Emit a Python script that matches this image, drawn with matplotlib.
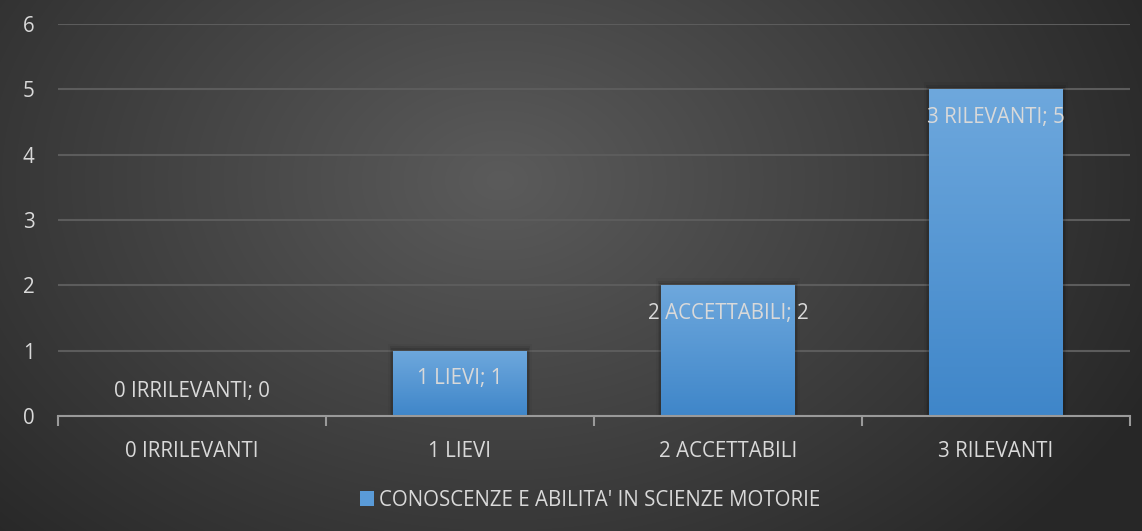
import numpy as np
import matplotlib
matplotlib.use("Agg")
import matplotlib.pyplot as plt
from matplotlib.colors import LinearSegmentedColormap
from matplotlib.patches import Patch

categories = ["0 IRRILEVANTI", "1 LIEVI", "2 ACCETTABILI", "3 RILEVANTI"]
values = [0, 1, 2, 5]
series_name = "CONOSCENZE E ABILITA' IN SCIENZE MOTORIE"
yticks = [0, 1, 2, 3, 4, 5, 6]

plt.rcParams['font.family'] = ['Open Sans', 'DejaVu Sans']
txt = '#d9d9d9'
fs = 14.8

W, H = 1142, 531
fig = plt.figure(figsize=(W / 100, H / 100), dpi=100)

# radial background
bg = fig.add_axes([0, 0, 1, 1], zorder=-10)
yy, xx = np.mgrid[0:H, 0:W]
cx, cy = 500, 180
r = np.sqrt(((xx - cx) / 720) ** 2 + ((yy - cy) / 520) ** 2)
r = np.clip(r, 0, 1)
c0 = np.array([0x5b, 0x5b, 0x5b]) / 255
c1 = np.array([0x27, 0x27, 0x27]) / 255
img = c0[None, None, :] * (1 - r[..., None]) + c1[None, None, :] * r[..., None]
bg.imshow(img, extent=[0, 1, 0, 1], aspect='auto', origin='upper')
bg.axis('off')

ax = fig.add_axes([58 / W, 1 - 416 / H, (1130 - 58) / W, (416 - 24) / H])
ax.patch.set_alpha(0)
x = np.arange(len(categories))
bars = ax.bar(x, values, width=0.5, color='#5599d6', zorder=3, label=series_name)

cmap = LinearSegmentedColormap.from_list('g', ['#3f86c9', '#6ea8dd'])
grad = np.linspace(0, 1, 256).reshape(-1, 1)
for b in bars:
    h = b.get_height()
    if h <= 0:
        continue
    x0 = b.get_x()
    w = b.get_width()
    for k, a in enumerate([0.10, 0.07, 0.04]):
        d = 0.006 * (k + 1)
        ax.add_patch(plt.Rectangle((x0 - d, 0), w + 2 * d, h + d * 6, color='black',
                                   alpha=a, zorder=2, lw=0))
    im = ax.imshow(grad, extent=[x0, x0 + w, 0, h], origin='lower', cmap=cmap,
                   aspect='auto', zorder=3.5)
    im.set_clip_path(b)

for xi, v, c in zip(x, values, categories):
    ax.text(xi, v - 0.43 if v > 0 else v + 0.37, f"{c}; {v}", ha='center', va='center',
            color=txt, fontsize=fs, zorder=5)

ax.set_xlim(-0.5, len(categories) - 0.5)
ax.set_ylim(0, 6)
ax.set_yticks(yticks)
ax.set_yticklabels([str(t) for t in yticks], color=txt, fontsize=fs)
ax.tick_params(axis='y', length=0, pad=17)
ax.yaxis.grid(True, color='#5c5c5c', lw=1.5, zorder=0)
ax.set_axisbelow(True)
ax.set_xticks(x)
ax.set_xticklabels(categories, color=txt, fontsize=fs)
ax.set_xticks(np.arange(-0.5, len(categories)), minor=True)
ax.tick_params(axis='x', which='major', length=0, pad=18)
ax.tick_params(axis='x', which='minor', length=7, width=1.5, color='#9a9a9a', direction='out')
for s in ['left', 'right', 'top']:
    ax.spines[s].set_visible(False)
ax.spines['bottom'].set_color('#9a9a9a')
ax.spines['bottom'].set_linewidth(1.5)
ax.spines['bottom'].set_zorder(4)

leg = fig.legend(handles=[Patch(facecolor='#5a9bd8', edgecolor='none')], labels=[series_name],
                 loc='center', bbox_to_anchor=(590 / W, 1 - 500 / H), frameon=False,
                 fontsize=fs, handlelength=0.7, handleheight=0.7, handletextpad=0.25)
for t in leg.get_texts():
    t.set_color(txt)

fig.savefig('out.png', dpi=100)
